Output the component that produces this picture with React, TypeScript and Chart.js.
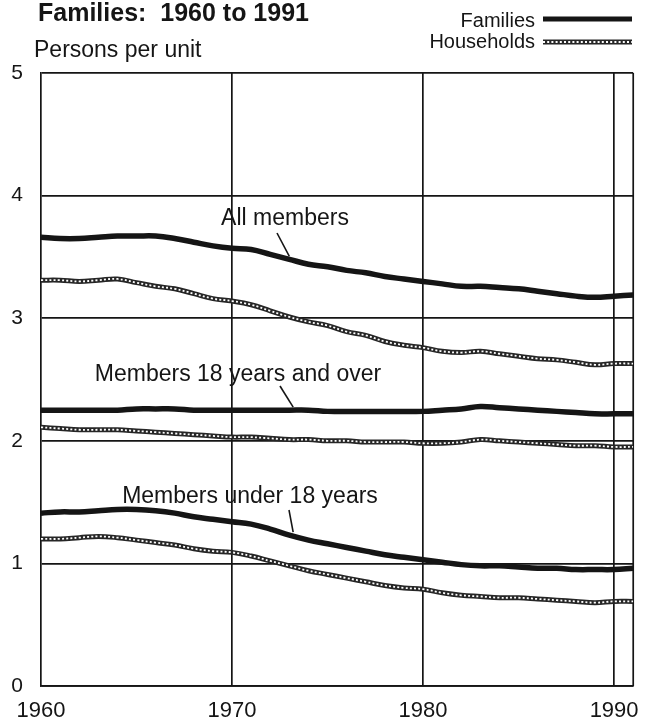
import React, { useEffect, useRef } from "react";
import { Chart, registerables } from "chart.js";

Chart.register(...registerables);

const years = [1960,1961,1962,1963,1964,1965,1966,1967,1968,1969,1970,1971,1972,1973,1974,1975,1976,1977,1978,1979,1980,1981,1982,1983,1984,1985,1986,1987,1988,1989,1990,1991];

const famAll = [3.66,3.65,3.65,3.66,3.67,3.67,3.67,3.65,3.62,3.59,3.57,3.56,3.52,3.48,3.44,3.42,3.39,3.37,3.34,3.32,3.30,3.28,3.26,3.26,3.25,3.24,3.22,3.20,3.18,3.17,3.18,3.19];
const hhAll = [3.31,3.31,3.30,3.31,3.32,3.29,3.26,3.24,3.20,3.16,3.14,3.11,3.06,3.01,2.97,2.94,2.89,2.86,2.81,2.78,2.76,2.73,2.72,2.73,2.71,2.69,2.67,2.66,2.64,2.62,2.63,2.63];
const fam18Plus = [2.25,2.25,2.25,2.25,2.25,2.26,2.26,2.26,2.25,2.25,2.25,2.25,2.25,2.25,2.25,2.24,2.24,2.24,2.24,2.24,2.24,2.25,2.26,2.28,2.27,2.26,2.25,2.24,2.23,2.22,2.22,2.22];
const hh18Plus = [2.11,2.10,2.09,2.09,2.09,2.08,2.07,2.06,2.05,2.04,2.03,2.03,2.02,2.01,2.01,2.00,2.00,1.99,1.99,1.99,1.98,1.98,1.99,2.01,2.00,1.99,1.98,1.97,1.96,1.96,1.95,1.95];
const famUnder18 = [1.41,1.42,1.42,1.43,1.44,1.44,1.43,1.41,1.38,1.36,1.34,1.32,1.28,1.23,1.19,1.16,1.13,1.10,1.07,1.05,1.03,1.01,0.99,0.98,0.98,0.97,0.96,0.96,0.95,0.95,0.95,0.96];
const hhUnder18 = [1.20,1.20,1.21,1.22,1.21,1.19,1.17,1.15,1.12,1.10,1.09,1.06,1.02,0.98,0.94,0.91,0.88,0.85,0.82,0.80,0.79,0.76,0.74,0.73,0.72,0.72,0.71,0.70,0.69,0.68,0.69,0.69];

const xTicks = [1960, 1970, 1980, 1990];
const yTicks = [0, 1, 2, 3, 4, 5];

const titleText = "Families:  1960 to 1991";
const yTitleText = "Persons per unit";
const legendFamilies = "Families";
const legendHouseholds = "Households";
const labelAll = "All members";
const label18Plus = "Members 18 years and over";
const labelUnder18 = "Members under 18 years";

const FONT = "'Liberation Sans', Arial, Helvetica, sans-serif";
const INK = "#151515";
const HH_INK = "#262626";
const BEAD = "#ffffff";
const BEAD_DASH = [2, 2.2];
const BEAD_W = 1.8;

const toPts = (arr: number[]) => arr.map((v, i) => ({ x: years[i], y: v }));

function famDs(arr: number[]) {
  return {
    data: toPts(arr),
    borderColor: INK,
    borderWidth: 5.5,
    pointRadius: 0,
    tension: 0.4,
    fill: false,
    order: 0,
  };
}
function hhBase(arr: number[]) {
  return {
    data: toPts(arr),
    borderColor: HH_INK,
    borderWidth: 5,
    pointRadius: 0,
    tension: 0.4,
    fill: false,
    order: 2,
  };
}
function hhBeads(arr: number[]) {
  return {
    data: toPts(arr),
    borderColor: BEAD,
    borderWidth: BEAD_W,
    borderDash: BEAD_DASH,
    pointRadius: 0,
    tension: 0.4,
    fill: false,
    order: 1,
  };
}

const overlay = {
  id: "overlay",
  afterDraw(chart: any) {
    const ctx = chart.ctx as CanvasRenderingContext2D;
    const xs = chart.scales.x;
    const ys = chart.scales.y;
    ctx.save();
    ctx.fillStyle = INK;
    ctx.textBaseline = "alphabetic";
    // title
    ctx.font = `bold 25px ${FONT}`;
    ctx.textAlign = "left";
    ctx.fillText(titleText, 38, 21);
    // y title
    ctx.font = `23px ${FONT}`;
    ctx.fillText(yTitleText, 34, 57);
    // legend
    ctx.textAlign = "right";
    ctx.font = `20px ${FONT}`;
    ctx.fillText(legendFamilies, 535, 27);
    ctx.fillText(legendHouseholds, 535, 48);
    ctx.lineCap = "butt";
    ctx.strokeStyle = INK;
    ctx.lineWidth = 5;
    ctx.beginPath();
    ctx.moveTo(543, 19);
    ctx.lineTo(632, 19);
    ctx.stroke();
    ctx.strokeStyle = HH_INK;
    ctx.lineWidth = 5;
    ctx.beginPath();
    ctx.moveTo(543, 42);
    ctx.lineTo(632, 42);
    ctx.stroke();
    ctx.strokeStyle = BEAD;
    ctx.lineWidth = BEAD_W;
    ctx.setLineDash(BEAD_DASH);
    ctx.beginPath();
    ctx.moveTo(543, 42);
    ctx.lineTo(632, 42);
    ctx.stroke();
    ctx.setLineDash([]);

    // series labels with leader lines
    ctx.font = `23px ${FONT}`;
    ctx.textAlign = "center";
    ctx.fillStyle = INK;
    const labels = [
      { text: labelAll, year: 1973.0, val: famAll[13], cx: 285, cy: 225, sx: 277, sy: 233 },
      { text: label18Plus, year: 1973.2, val: fam18Plus[13], cx: 238, cy: 381, sx: 280, sy: 386 },
      { text: labelUnder18, year: 1973.2, val: famUnder18[13], cx: 250, cy: 503, sx: 289, sy: 510 },
    ];
    ctx.strokeStyle = INK;
    ctx.lineWidth = 1.6;
    for (const l of labels) {
      ctx.fillText(l.text, l.cx, l.cy);
      const ex = xs.getPixelForValue(l.year);
      const ey = ys.getPixelForValue(l.val) - 3;
      ctx.beginPath();
      ctx.moveTo(l.sx, l.sy);
      ctx.lineTo(ex, ey);
      ctx.stroke();
    }
    ctx.restore();
  },
};

export default function App() {
  const ref = useRef<HTMLCanvasElement | null>(null);
  useEffect(() => {
    document.body.style.margin = "0";
    const c = ref.current!;
    const chart = new Chart(c, {
      type: "line",
      data: {
        datasets: [
          hhBase(hhAll), hhBeads(hhAll),
          hhBase(hh18Plus), hhBeads(hh18Plus),
          hhBase(hhUnder18), hhBeads(hhUnder18),
          famDs(famAll), famDs(fam18Plus), famDs(famUnder18),
        ] as any,
      },
      options: {
        animation: false,
        responsive: false,
        devicePixelRatio: 1,
        layout: { padding: { top: 73, right: 13, left: 0, bottom: 0 } },
        plugins: { legend: { display: false }, tooltip: { enabled: false }, title: { display: false } },
        scales: {
          x: {
            type: "linear",
            min: 1960,
            max: 1991,
            afterBuildTicks: (s: any) => { s.ticks = xTicks.map((v) => ({ value: v })); },
            afterFit: (s: any) => { s.height = 39; },
            ticks: {
              color: INK,
              font: { family: FONT, size: 22 },
              padding: 12,
              maxRotation: 0,
              callback: (v: any) => String(v),
            },
            grid: {
              color: (ctx: any) => (ctx.tick && ctx.tick.value === 1960 ? "rgba(0,0,0,0)" : INK),
              lineWidth: 1.7,
              drawTicks: false,
            },
            border: { display: true, color: INK, width: 1.7 },
          },
          y: {
            type: "linear",
            min: 0,
            max: 5,
            afterBuildTicks: (s: any) => { s.ticks = yTicks.map((v) => ({ value: v })); },
            afterFit: (s: any) => { s.width = 41; },
            ticks: {
              color: INK,
              font: { family: FONT, size: 21 },
              padding: 18,
              callback: (v: any) => String(v),
            },
            grid: { color: INK, lineWidth: 1.7, drawTicks: false },
            border: { display: true, color: INK, width: 1.7 },
          },
        },
      },
      plugins: [
        overlay,
        {
          id: "rightBorder",
          beforeDatasetsDraw(chart: any) {
            const { ctx, chartArea } = chart;
            ctx.save();
            ctx.strokeStyle = INK;
            ctx.lineWidth = 1.7;
            ctx.beginPath();
            ctx.moveTo(chartArea.right, chartArea.top);
            ctx.lineTo(chartArea.right, chartArea.bottom);
            ctx.stroke();
            ctx.restore();
          },
        },
      ],
    });
    return () => chart.destroy();
  }, []);
  return (
    <div style={{ position: "absolute", left: 0, top: 0, width: 651, height: 725, background: "#fff" }}>
      <canvas ref={ref} width={651} height={725} style={{ display: "block" }} />
    </div>
  );
}
